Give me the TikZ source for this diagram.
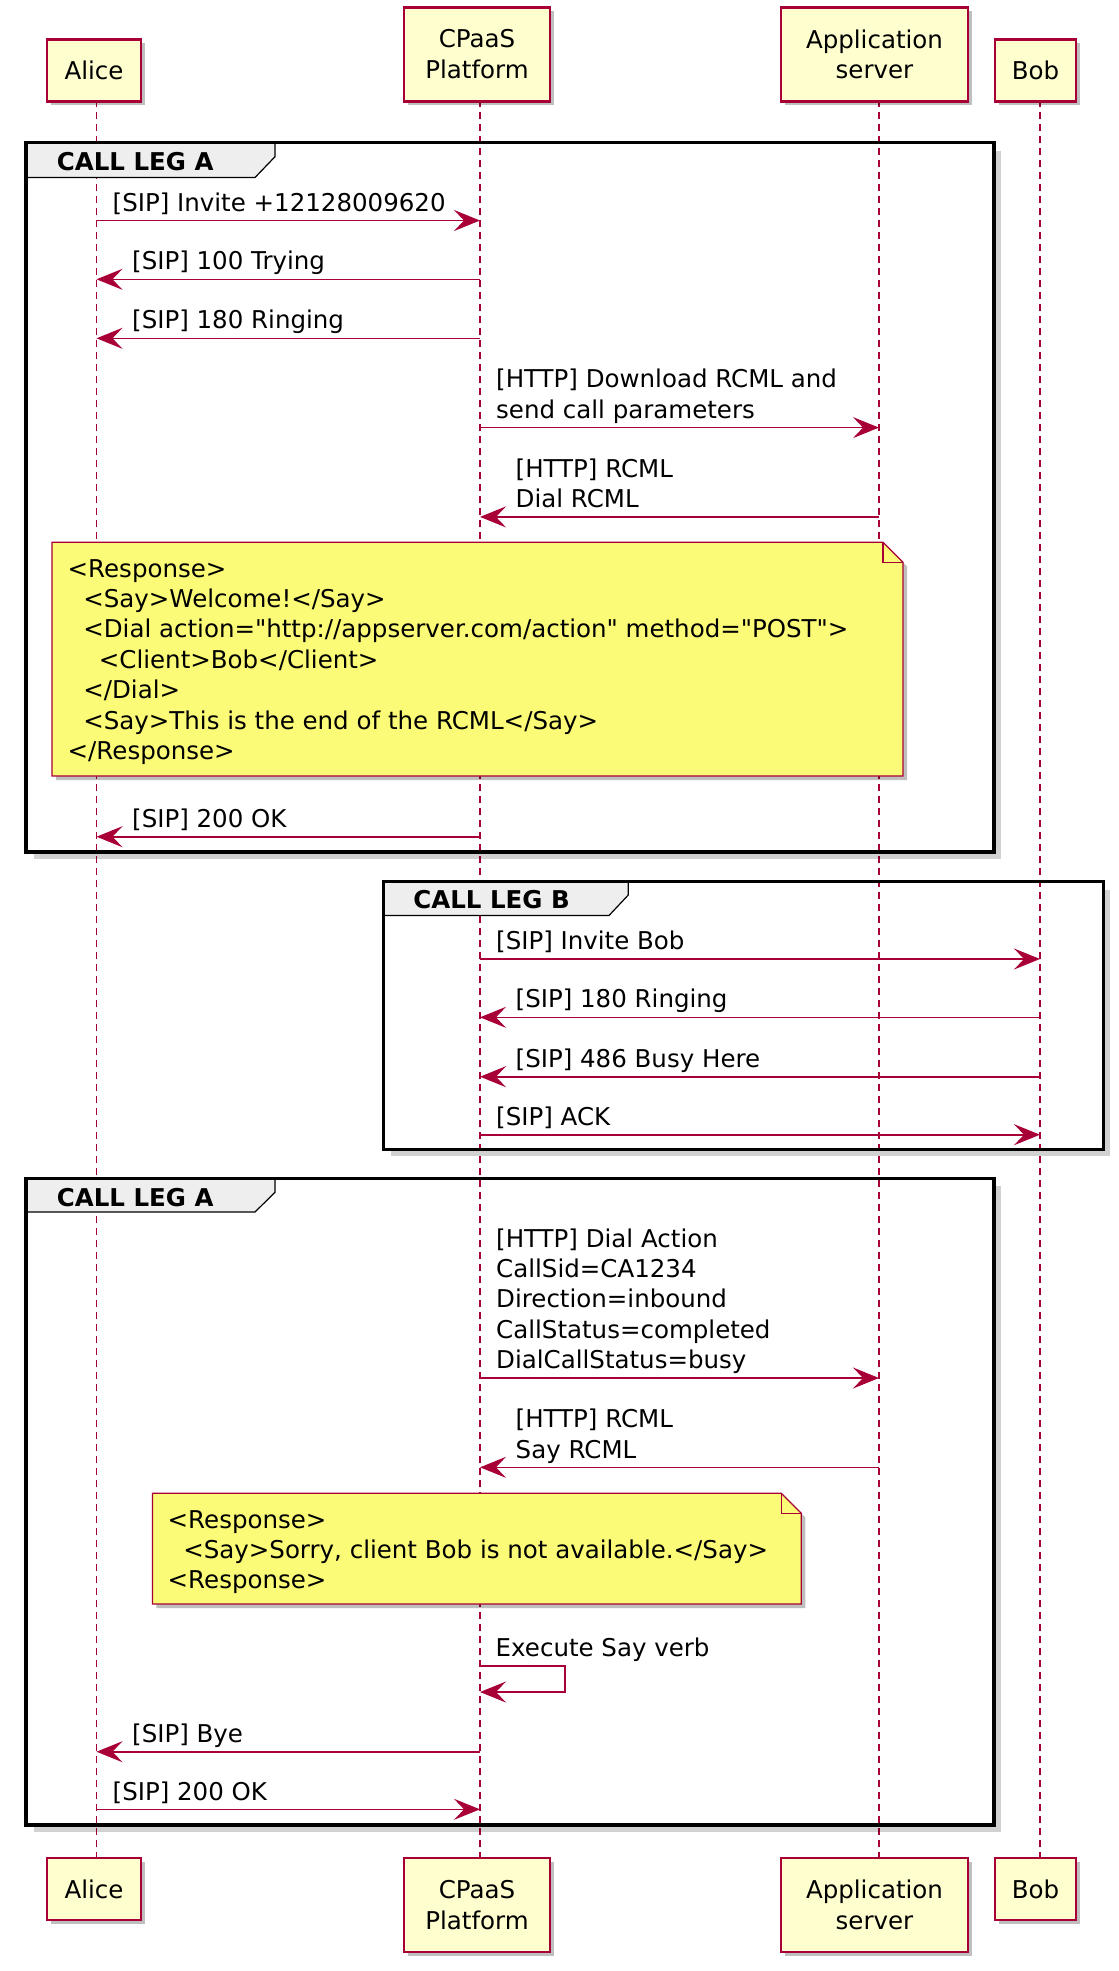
\documentclass[tikz,border=0pt]{standalone}
\usepackage{fontspec}
\setmainfont{DejaVu Sans}[Ligatures=TeXOff]
\usetikzlibrary{arrows.meta,shadows}

\definecolor{pumlred}{HTML}{A80036}
\definecolor{pumlbox}{HTML}{FEFECE}
\definecolor{pumlnote}{HTML}{FBFB77}
\definecolor{pumltab}{HTML}{EEEEEE}
\newcommand{\indt}{\hspace*{15.6pt}}

\begin{document}
\begin{tikzpicture}[x=1pt, y=-1pt, >={Stealth[length=26pt,width=21pt,inset=10pt]},
  font=\fontsize{24.5}{30.4}\selectfont,
  dropsh/.style={drop shadow={shadow xshift=4pt,shadow yshift=-4pt,opacity=0.25,fill=black}},
  actor/.style={draw=pumlred, fill=pumlbox, line width=2.5pt, align=center, inner sep=0pt, dropsh},
  lifeline/.style={draw=pumlred, line width=1.2pt, dash pattern=on 7pt off 5pt},
  msg/.style={draw=pumlred, line width=1.6pt, ->},
  lbl/.style={anchor=south west, inner sep=0pt, align=left, execute at end node=\strut},
  notebox/.style={draw=pumlred, fill=pumlnote, line width=1.2pt, dropsh},
  grp/.style={draw=black, line width=3.2pt},
  grpshadow/.style={draw=black, opacity=0.18, line width=5pt},
  tab/.style={draw=black, fill=pumltab, line width=1.2pt},
  tablbl/.style={anchor=base west, inner sep=0pt, font=\fontsize{24.5}{30.4}\selectfont\bfseries}]

\useasboundingbox (0,0) rectangle (1119,1971);

% lifelines
\coordinate (lA) at (96.5,100);
\coordinate (lC) at (480,100);
\coordinate (lS) at (879,100);
\coordinate (lB) at (1040,100);
\draw[lifeline] (lA) -- (lA |- 0,1856.7);
\draw[lifeline] (lC) -- (lC |- 0,1856.7);
\draw[lifeline] (lS) -- (lS |- 0,1856.7);
\draw[lifeline] (lB) -- (lB |- 0,1856.7);

% participants, top and bottom
\node[actor, anchor=north, minimum width=94pt, minimum height=62pt] (alice) at (94,38) {Alice};
\node[actor, anchor=north, minimum width=146pt, minimum height=94pt] (cpaas) at (477,6) {CPaaS\\Platform};
\node[actor, anchor=north, minimum width=187pt, minimum height=94pt] (app) at (874.5,6) {Application\\server};
\node[actor, anchor=north, minimum width=81pt, minimum height=62pt] (bob) at (1035.5,38) {Bob};
\node[actor, anchor=north, minimum width=94pt, minimum height=62pt] (alice2) at (94,1856.7) {Alice};
\node[actor, anchor=north, minimum width=146pt, minimum height=94pt] (cpaas2) at (477,1856.7) {CPaaS\\Platform};
\node[actor, anchor=north, minimum width=187pt, minimum height=94pt] (app2) at (874.5,1856.7) {Application\\server};
\node[actor, anchor=north, minimum width=81pt, minimum height=62pt] (bob2) at (1035.5,1856.7) {Bob};

% group frames
\draw[grpshadow] (998,150.7) -- (998,856) -- (34,856);
\draw[tab] (26,142.7) -- (275,142.7) -- (275,156.7) -- (255,177.5) -- (26,177.5) -- cycle;
\draw[grp] (26,142.7) rectangle (994,852);
\node[tablbl] (legA) at (56.7,170.5) {CALL LEG A};

\draw[grpshadow] (1107.6,889.7) -- (1107.6,1153.3) -- (391.4,1153.3);
\draw[tab] (383.4,881.7) -- (628.3,881.7) -- (628.3,895) -- (609,915.5) -- (383.4,915.5) -- cycle;
\draw[grp] (383.4,881.7) rectangle (1103.6,1149.3);
\node[tablbl] (legB) at (413.2,908.8) {CALL LEG B};

\draw[grpshadow] (998,1186.3) -- (998,1829) -- (34,1829);
\draw[tab] (26,1178.3) -- (275,1178.3) -- (275,1192.3) -- (255,1212) -- (26,1212) -- cycle;
\draw[grp] (26,1178.3) rectangle (994,1825);
\node[tablbl] (legA2) at (56.7,1206.1) {CALL LEG A};

% call leg A
\draw[msg] (lA |- 0,220.5) -- (lC |- 0,220.5);
\node[lbl] (m1) at (112.5,220.5) {[SIP] Invite +12128009620};
\draw[msg] (lC |- 0,279.3) -- (lA |- 0,279.3);
\node[lbl] (m2) at (132,279.3) {[SIP] 100 Trying};
\draw[msg] (lC |- 0,338.3) -- (lA |- 0,338.3);
\node[lbl] (m3) at (132,338.3) {[SIP] 180 Ringing};
\draw[msg] (lC |- 0,427.6) -- (lS |- 0,427.6);
\node[lbl] (m4) at (496,427.6) {[HTTP] Download RCML and\\send call parameters};
\draw[msg] (lS |- 0,516.9) -- (lC |- 0,516.9);
\node[lbl] (m5) at (515.5,516.9) {[HTTP] RCML\\Dial RCML};

\filldraw[notebox] (52,542.3) -- (883,542.3) -- (903,562.3) -- (903,776) -- (52,776) -- cycle;
\draw[draw=pumlred, line width=1.2pt] (883,542.3) -- (883,562.3) -- (903,562.3); %fold
\node[lbl] (note1) at (67.5,768.8) {<Response>\\
  \indt<Say>Welcome!</Say>\\
  \indt<Dial action="http://appserver.com/action" method="POST">\\
  \indt\indt<Client>Bob</Client>\\
  \indt</Dial>\\
  \indt<Say>This is the end of the RCML</Say>\\
  </Response>};

\draw[msg] (lC |- 0,836.7) -- (lA |- 0,836.7);
\node[lbl] (m7) at (132,836.7) {[SIP] 200 OK};

% call leg B
\draw[msg] (lC |- 0,959) -- (lB |- 0,959);
\node[lbl] (m8) at (496,959) {[SIP] Invite Bob};
\draw[msg] (lB |- 0,1017.3) -- (lC |- 0,1017.3);
\node[lbl] (m9) at (515.5,1017.3) {[SIP] 180 Ringing};
\draw[msg] (lB |- 0,1076.7) -- (lC |- 0,1076.7);
\node[lbl] (m10) at (515.5,1076.7) {[SIP] 486 Busy Here};
\draw[msg] (lC |- 0,1134.7) -- (lB |- 0,1134.7);
\node[lbl] (m11) at (496,1134.7) {[SIP] ACK};

% call leg A again
\draw[msg] (lC |- 0,1378) -- (lS |- 0,1378);
\node[lbl] (m12) at (496,1378) {[HTTP] Dial Action\\CallSid=CA1234\\Direction=inbound\\CallStatus=completed\\DialCallStatus=busy};
\draw[msg] (lS |- 0,1467.3) -- (lC |- 0,1467.3);
\node[lbl] (m13) at (515.5,1467.3) {[HTTP] RCML\\Say RCML};

\filldraw[notebox] (152.4,1493.3) -- (781.3,1493.3) -- (801.3,1513.3) -- (801.3,1604) -- (152.4,1604) -- cycle;
\draw[draw=pumlred, line width=1.2pt] (781.3,1493.3) -- (781.3,1513.3) -- (801.3,1513.3); %fold
\node[lbl] (note2) at (167.5,1598.1) {<Response>\\
  \indt<Say>Sorry, client Bob is not available.</Say>\\
  <Response>};

\coordinate (selfR) at (565,1665.7);
\draw[msg] (lC |- selfR) -- (selfR) -- (selfR |- 0,1692) -- (lC |- 0,1692); %self message
\node[lbl] (m15) at (495.5,1665.7) {Execute Say verb};

\draw[msg] (lC |- 0,1751.7) -- (lA |- 0,1751.7);
\node[lbl] (m16) at (132,1751.7) {[SIP] Bye};
\draw[msg] (lA |- 0,1809.3) -- (lC |- 0,1809.3);
\node[lbl] (m17) at (112.5,1809.3) {[SIP] 200 OK};

\end{tikzpicture}
\end{document}
